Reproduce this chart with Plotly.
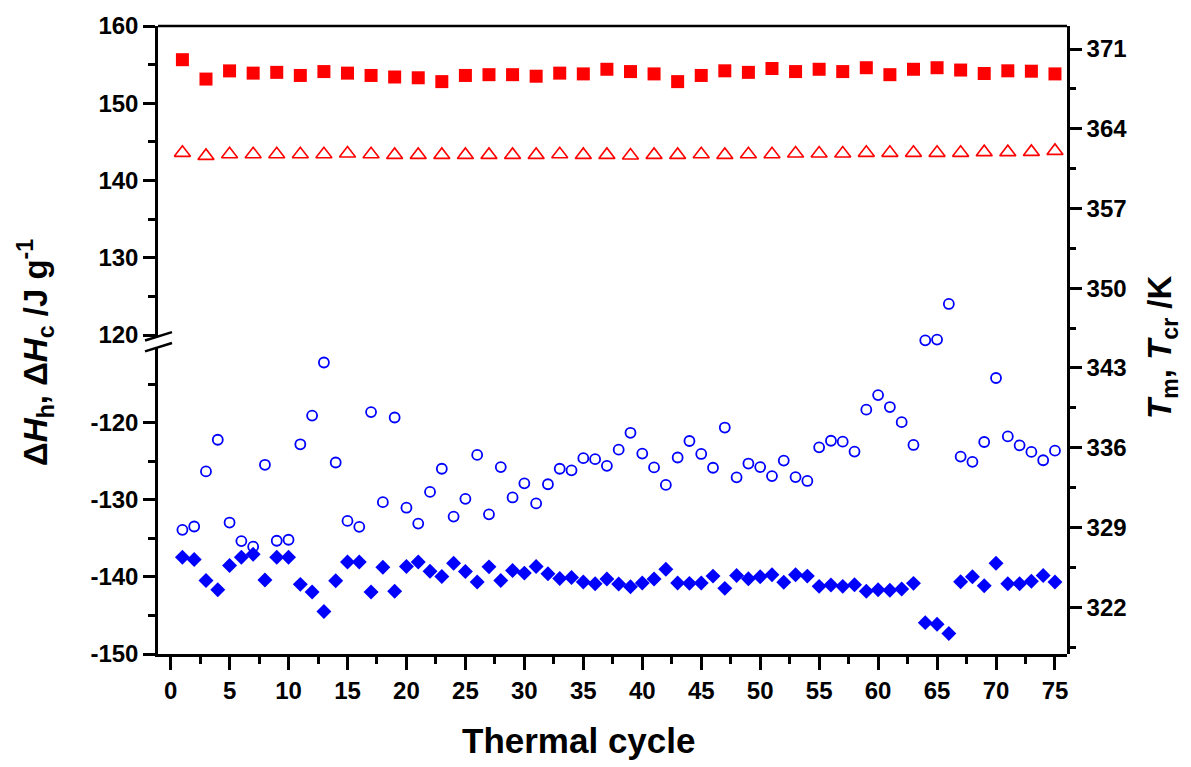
import plotly.graph_objects as go

# ---------------- data ----------------
cycles = list(range(1, 76))
cycles_odd = list(range(1, 76, 2))

# Delta H heating (J/g), red filled squares, odd cycles
dH_h = [155.64, 153.13, 154.19, 153.9, 154.0, 153.6, 154.1, 153.9, 153.6, 153.4,
        153.3, 152.8, 153.6, 153.7, 153.7, 153.5, 153.9, 153.8, 154.4, 154.1,
        153.8, 152.8, 153.6, 154.2, 154.0, 154.5, 154.1, 154.4, 154.1, 154.6,
        153.7, 154.4, 154.6, 154.3, 153.85, 154.2, 154.15, 153.8]

# Tm (K), red open triangles, odd cycles
T_m = [361.89, 361.62, 361.77, 361.77, 361.77, 361.77, 361.77, 361.83, 361.77, 361.71,
       361.71, 361.71, 361.71, 361.71, 361.71, 361.71, 361.77, 361.71, 361.71, 361.66,
       361.71, 361.71, 361.77, 361.71, 361.77, 361.77, 361.83, 361.83, 361.83, 361.89,
       361.89, 361.89, 361.89, 361.89, 361.95, 361.95, 361.97, 362.06]

# Tcr (K), blue open circles, every cycle
T_cr = [328.79, 329.08, 333.92, 336.70, 329.43, 327.80, 327.31, 334.50, 327.83, 327.92,
        336.30, 338.82, 343.48, 334.70, 329.57, 329.05, 339.13, 331.22, 338.65, 330.73,
        329.34, 332.12, 334.15, 329.95, 331.51, 335.37, 330.15, 334.30, 331.63, 332.87,
        331.11, 332.79, 334.15, 334.01, 335.08, 334.99, 334.41, 335.83, 337.31, 335.48,
        334.27, 332.73, 335.14, 336.59, 335.45, 334.24, 337.77, 333.40, 334.61, 334.30,
        333.51, 334.87, 333.42, 333.08, 336.03, 336.61, 336.53, 335.66, 339.34, 340.62,
        339.57, 338.24, 336.24, 345.43, 345.49, 348.62, 335.22, 334.76, 336.50, 342.12,
        336.99, 336.21, 335.63, 334.90, 335.74]

# Delta H cooling (J/g), blue filled diamonds, every cycle
dH_c = [-137.44, -137.74, -140.45, -141.65, -138.52, -137.44, -137.06, -140.40, -137.44, -137.44,
        -140.96, -141.95, -144.47, -140.49, -138.05, -138.05, -141.95, -138.73, -141.86, -138.65,
        -138.05, -139.25, -139.93, -138.22, -139.29, -140.66, -138.69, -140.45, -139.16, -139.50,
        -138.65, -139.59, -140.19, -140.06, -140.66, -140.87, -140.27, -140.92, -141.26, -140.79,
        -140.27, -138.99, -140.79, -140.83, -140.79, -139.89, -141.48, -139.80, -140.23, -139.97,
        -139.72, -140.70, -139.72, -139.89, -141.22, -141.05, -141.22, -141.00, -141.86, -141.65,
        -141.73, -141.56, -140.83, -145.93, -146.15, -147.35, -140.62, -139.97, -141.13, -138.22,
        -140.87, -140.87, -140.57, -139.80, -140.66]

x_ticks = [0, 5, 10, 15, 20, 25, 30, 35, 40, 45, 50, 55, 60, 65, 70, 75]
x_ticktext = ["0", "5", "10", "15", "20", "25", "30", "35", "40", "45", "50",
              "55", "60", "65", "70", "75"]
lower_ticks = [-150, -140, -130, -120]
lower_ticktext = ["-150", "-140", "-130", "-120"]
upper_ticks = [120, 130, 140, 150, 160]
upper_ticktext = ["120", "130", "140", "150", "160"]
right_ticks = [322, 329, 336, 343, 350, 357, 364, 371]
right_ticktext = ["322", "329", "336", "343", "350", "357", "364", "371"]

# ---------------- layout geometry (pixels) ----------------
W, H = 1191, 767
L, R, T, B = 158, 124, 20, 113
PW, PH = W - L - R, H - T - B


def px(xp):
    return (xp - L) / PW


def py(yp):
    return (H - B - yp) / PH


def bold(labels):
    return ["<b>%s</b>" % s for s in labels]


FONT = "Liberation Sans, Arial, sans-serif"
RED = "#ff0000"
BLUE = "#0000ff"


def axis_style(ticklen=12):
    return dict(showline=True, linecolor="black", linewidth=2.5, ticks="outside",
                ticklen=ticklen, tickwidth=2.5, tickcolor="black", showgrid=False,
                zeroline=False, tickmode="array",
                tickfont=dict(family=FONT, size=24, color="black", weight="bold"))


def minor_style(dtick, ticklen=7):
    return dict(tickmode="linear", tick0=0, dtick=dtick, ticks="outside",
                ticklen=ticklen, tickwidth=2.5, tickcolor="black")


fig = go.Figure()
fig.add_trace(go.Scatter(x=cycles_odd, y=dH_h, xaxis="x", yaxis="y2", mode="markers",
                         marker=dict(symbol="square", size=13, color=RED,
                                     line=dict(width=0)), name="dHh"))
fig.add_trace(go.Scatter(x=cycles_odd, y=T_m, xaxis="x", yaxis="y3", mode="markers",
                         marker=dict(symbol="triangle-up-open", size=14, color=RED,
                                     line=dict(width=1.6, color=RED)), name="Tm"))
fig.add_trace(go.Scatter(x=cycles, y=T_cr, xaxis="x", yaxis="y3", mode="markers",
                         marker=dict(symbol="circle-open", size=10, color=BLUE,
                                     line=dict(width=1.8, color=BLUE)), name="Tcr"))
fig.add_trace(go.Scatter(x=cycles, y=dH_c, xaxis="x", yaxis="y", mode="markers",
                         marker=dict(symbol="diamond", size=11.5, color=BLUE,
                                     line=dict(width=0)), name="dHc"))

up_bottom = 333
low_top = 344
scale_left = 7.8
scale_right = 11.498

fig.update_layout(
    width=W, height=H,
    margin=dict(l=L, r=R, t=T, b=B, pad=0),
    paper_bgcolor="white", plot_bgcolor="rgba(0,0,0,0)",
    showlegend=False,
    xaxis=dict(**axis_style(13), domain=[0, 1], anchor="y", range=[-1.07, 76.02],
               tickvals=x_ticks, ticktext=bold(x_ticktext),
               minor=minor_style(2.5)),
    yaxis=dict(**axis_style(), domain=[0, py(low_top)], anchor="x",
               range=[-150, -150 + (H - B - low_top) / 7.777],
               tickvals=lower_ticks, ticktext=bold(lower_ticktext),
               minor=minor_style(5)),
    yaxis2=dict(**axis_style(), domain=[py(up_bottom), 1], anchor="x",
                range=[160 - (up_bottom - T) / scale_left, 160],
                tickvals=upper_ticks, ticktext=bold(upper_ticktext),
                minor=minor_style(5)),
    yaxis3=dict(**axis_style(), domain=[0, 1], anchor="x", side="right",
                range=[371 - (H - B - 43.3) / scale_right, 371 + (43.3 - T) / scale_right],
                tickvals=right_ticks, ticktext=bold(right_ticktext),
                minor=minor_style(3.5, 6)),
)

shapes = [
    # top frame line
    dict(type="line", xref="paper", yref="paper", x0=0, x1=1, y0=1, y1=1,
         line=dict(color="black", width=2.5)),
    # axis break marks
    dict(type="line", xref="paper", yref="paper", x0=px(145), y0=py(337.5),
         x1=px(172), y1=py(329), line=dict(color="black", width=2.5)),
    dict(type="line", xref="paper", yref="paper", x0=px(145), y0=py(348.5),
         x1=px(172), y1=py(340), line=dict(color="black", width=2.5)),
]
fig.update_layout(shapes=shapes)

TF = dict(family=FONT, color="black", weight="bold")
annotations = [
    dict(text="<b>Thermal cycle</b>", xref="paper", yref="paper", x=px(578), y=py(741),
         xanchor="center", yanchor="middle", showarrow=False, font=dict(**TF, size=35)),
    dict(text="<b>Δ<i>H</i><sub>h</sub>, Δ<i>H</i><sub>c</sub> /J g<sup>-1</sup></b>",
         xref="paper", yref="paper", x=px(36), y=py(350), textangle=-90,
         xanchor="center", yanchor="middle", showarrow=False, font=dict(**TF, size=33)),
    dict(text="<b><i>T</i><sub>m</sub>, <i>T</i><sub>cr</sub> /K</b>",
         xref="paper", yref="paper", x=px(1162), y=py(345), textangle=-90,
         xanchor="center", yanchor="middle", showarrow=False, font=dict(**TF, size=33)),
]
fig.update_layout(annotations=annotations)

fig.write_html("out.html")
